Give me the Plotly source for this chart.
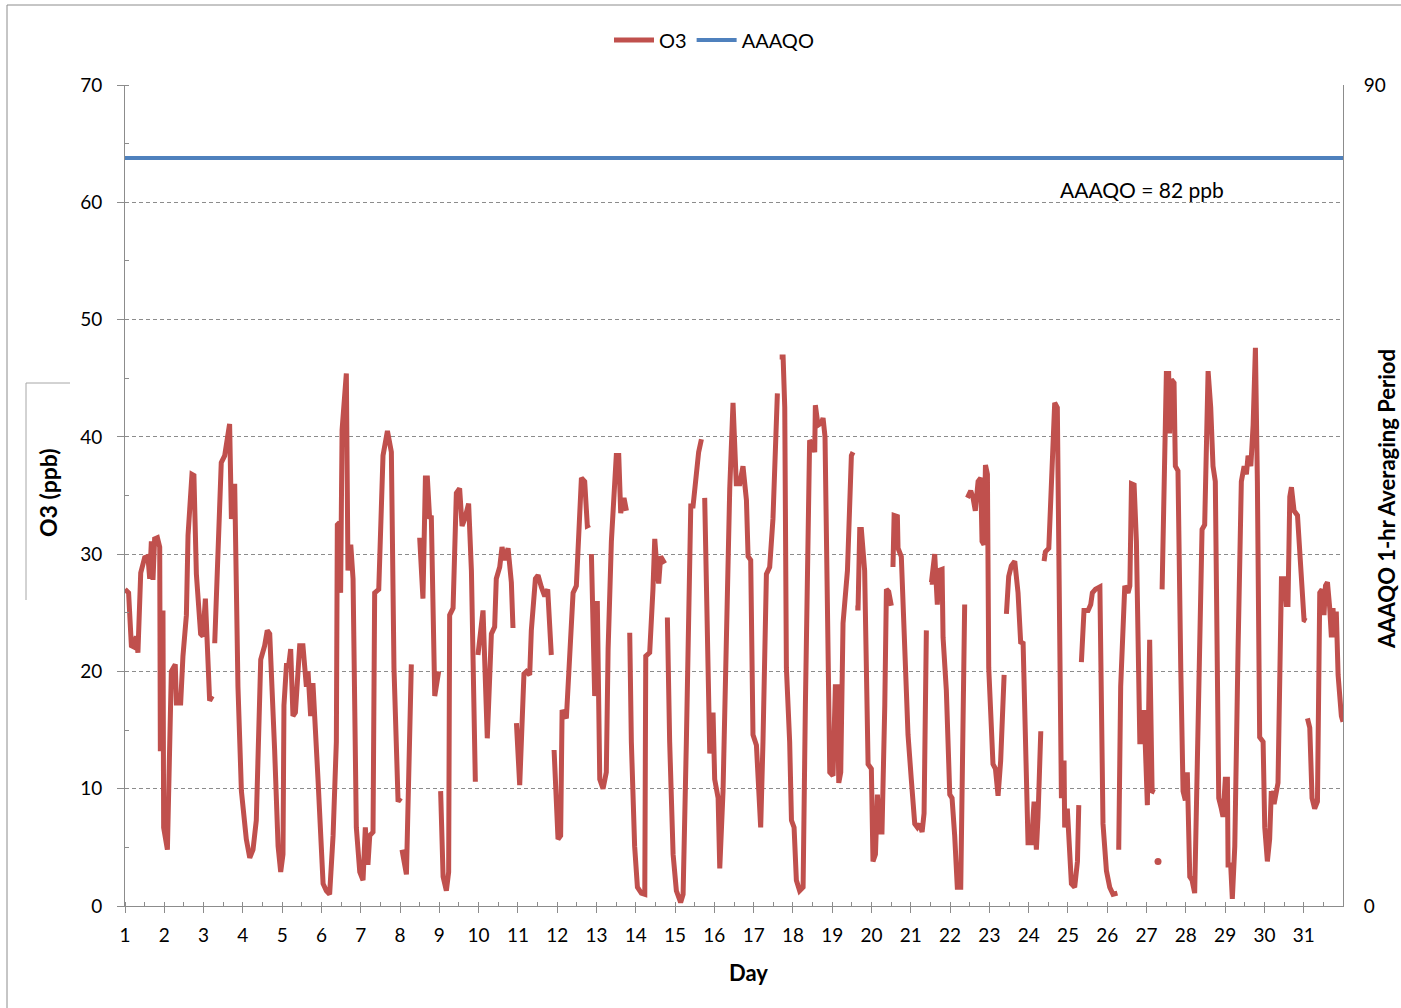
import plotly.graph_objects as go

# ---------------- data (hour of month, O3 ppb); None marks missing hours ----------------
o3_hours = [
    0.0, 2.2, 3.9, 5.3, 6.9, 7.9, 9.6, 12.0, 14.0, 15.1, 16.1, 17.1, 18.1, 19.8, 21.2, 21.6, 23.2, 23.6, 25.9, 27.3,
    28.3, 30.7, 31.4, 34.0, 35.4, 37.5, 38.5, 40.9, 42.1, 43.6, 46.2, 47.6, 49.1, 51.7, 53.3, None,
    54.8, 58.8, 60.9, 63.9, 65.0, 67.0, 69.0, 71.1, 74.1, 76.2, 78.2, 80.2, 82.9, 85.3, 86.9, 88.4, 91.4, 93.5, 95.1,
    96.5, 97.1, 98.6, 100.0, 101.2, 102.6, 104.1, 106.7, 108.7, 110.8, 111.8, 113.4, 114.8, 117.9, 121.0, 123.0,
    125.0, 127.1, 129.1, 129.7, 131.1, 131.7, 132.6, 135.2, 136.2, 137.9, 139.3, 141.3, 143.4, 145.4, 146.8, 148.4,
    149.5, 151.5, 152.5, 155.0, 157.6, 160.3, 162.7, 164.3, 166.8, 168.4, None,
    169.2, 171.9, 174.9, None,
    180.0, 182.0, 183.5, 184.7, 186.1, 187.1, 189.2, 191.6, None,
    192.8, 194.3, 196.3, 197.7, 198.3, 200.4, 202.4, 204.4, 205.9, 207.5, 209.9, 211.6, 214.0, None,
    215.6, 218.7, 221.3, 223.8, 225.8, 226.8, 228.9, 230.3, 231.9, 234.0, 236.0, 237.0, None,
    239.1, 241.1, 243.7, 245.2, 247.2, 248.2, 250.7, 252.3, 254.3, 256.4, 258.2, 260.4, None,
    262.1, 264.5, 266.1, 267.0, 269.6, 271.6, 273.7, 275.7, 278.8, 280.8, 282.4, 283.9, None,
    284.9, 286.9, 288.5, 290.0, 292.0, 294.0, 295.1, 297.1, 300.1, 301.6, 302.8, 304.8, 306.3, None,
    308.3, 309.3, 311.3, 313.0, 315.4, 317.5, 318.1, 320.5, 322.5, 323.6, 325.2, 326.0, 327.2, 329.7, None,
    331.3, 332.7, 334.8, 336.8, 339.4, 340.9, 342.9, 344.9, 345.6, 347.0, 349.0, 350.4, 352.1, None,
    354.1, 356.1, 357.2, 359.2, 360.2, 362.3, 363.3, 365.3, 367.3, 369.4, 371.4, 372.4, 373.4, 375.5, 377.5, 379.6,
    380.6, 382.2, 383.6, 385.7, 388.3, 389.7, 391.8, 393.8, 395.8, 398.5, None,
    399.9, 402.0, 403.0, 404.0, 406.0, 407.1, 408.7, 410.1, 412.1, 414.2, 415.6, 417.2, 418.2, 419.7, 421.3, 421.7,
    423.3, 425.4, 426.4, 427.6, 428.4, 430.5, 432.5, 433.9, 435.1, 436.0, 437.2, 438.6, 441.3, 442.7, 443.7, 444.7, None,
    446.1, 447.8, 448.8, 449.8, 451.8, 453.9, 455.9, 456.9, 458.4, 459.6, 461.0, 462.4, 464.1, 465.1, 466.5, 468.1, None,
    469.1, 469.8, 471.8, 472.2, 474.2, 476.3, 478.3, 480.3, 482.4, 484.0, 485.4, 486.9, 488.1, 489.5, None,
    491.6, 492.6, 494.6, 496.2, 497.1, 499.1, 499.7, 501.7, 503.8, 505.2, 506.8, 508.4, 510.5, 511.9, 512.9, None,
    514.6, 516.6, 518.0, 519.4, 521.1, 522.7, 523.5, 524.7, 525.6, 526.8, 527.6, 529.2, 530.2, 531.7, 533.3, 534.9,
    537.0, None,
    538.4, 539.8, 541.4, 543.5, 545.5, 547.1, 548.6, 550.6, 551.6, 553.7, 555.3, 556.7, 557.7, 559.4, None,
    561.4, 562.2, 564.3, 565.9, 567.9, 569.5, 571.0, 572.0, 573.6, 574.0, 575.6, 577.1, 578.1, 580.1, 581.8, 582.6, None,
    584.2, 585.8, 588.3, 589.9, 590.9, 592.8, 595.5, 596.3, 597.4, 599.5, 601.5, 603.5, 606.2, None,
    607.0, 608.2, 610.7, 612.7, 613.8, 614.8, 616.4, 617.8, 619.9, 621.3, 622.5, 623.9, 624.5, 625.9, 627.4, 629.0, None,
    631.0, None,
    633.5, 635.1, 636.1, 637.5, 638.1, 639.2, 640.8, 641.6, 643.2, 644.9, 646.3, 647.7, 648.9, 650.4, 651.8, 653.4,
    655.0, 656.5, 657.9, 659.5, 660.6, 661.6, 663.2, 664.6, 666.0, 667.3, 668.1, 669.7, 670.7, 672.1, 673.4, 673.8,
    675.4, 676.4, 677.9, 679.9, 681.9, 683.6, 685.0, 686.0, 687.7, 689.1, 690.5, 691.7, 693.1, 695.2, 696.2, 697.8,
    699.2, 700.2, 701.9, 704.3, 706.4, 708.4, 709.4, 710.4, 711.5, 712.5, 714.1, 716.2, 718.6, 720.2, 721.6, None,
    722.3, 723.7, 725.1, 726.7, 728.4, 729.8, 731.2, 732.4, 733.3, 734.5, 735.9, 736.9, 737.9, 738.9, 739.9, 741.0,
    743.0, 744.0,
]

o3_ppb = [
    27.0, 26.7, 22.2, 22.1, 23.0, 21.6, 28.4, 29.7, 29.8, 27.9, 31.1, 27.8, 31.3, 31.4, 30.6, 13.2, 25.2, 6.7, 4.8, 14.0,
    20.0, 20.6, 17.3, 17.3, 21.3, 24.8, 31.6, 36.8, 36.7, 28.3, 23.2, 23.0, 26.2, 17.5, 17.9, None,
    22.4, 37.8, 38.4, 41.1, 33.0, 36.0, 18.7, 9.8, 5.7, 4.1, 4.8, 7.3, 21.0, 22.2, 23.5, 23.2, 13.3, 5.1, 2.9,
    4.4, 17.1, 20.5, 20.5, 21.9, 16.2, 16.5, 22.2, 22.2, 18.7, 20.0, 16.2, 19.0, 10.8, 1.9, 1.3,
    1.0, 6.0, 14.0, 32.5, 32.7, 26.7, 40.6, 45.4, 28.6, 30.8, 27.9, 6.7, 2.9, 2.2, 6.7, 3.5,
    6.0, 6.3, 26.7, 27.0, 38.4, 40.5, 38.7, 20.3, 8.9, 9.2, None,
    4.8, 2.7, 20.6, None,
    31.4, 26.2, 36.5, 36.5, 33.0, 33.3, 17.9, 20.0, None,
    9.8, 2.5, 1.3, 2.9, 24.8, 25.4, 35.2, 35.6, 32.4, 33.0, 34.3, 28.6, 10.6, None,
    21.4, 25.2, 14.3, 23.2, 23.8, 27.9, 28.9, 30.6, 29.5, 30.5, 27.6, 23.7, None,
    15.6, 10.3, 19.8, 20.0, 19.7, 23.5, 27.9, 28.2, 27.2, 26.4, 27.0, 21.4, None,
    13.3, 5.7, 6.0, 16.7, 16.0, 22.2, 26.7, 27.3, 36.5, 36.2, 32.4, 32.5, None,
    30.0, 17.9, 26.0, 10.8, 10.0, 11.4, 21.9, 31.1, 38.4, 38.4, 33.5, 34.8, 33.7, None,
    23.3, 14.0, 5.1, 1.6, 1.1, 1.0, 21.3, 21.6, 27.0, 31.3, 28.3, 27.5, 29.8, 29.2, None,
    24.6, 14.0, 4.4, 1.3, 0.3, 1.0, 14.0, 31.7, 34.1, 34.1, 37.0, 38.7, 39.8, None,
    34.8, 23.5, 13.0, 16.5, 10.8, 9.2, 3.2, 9.8, 23.5, 35.6, 42.9, 37.5, 36.0, 36.0, 37.5, 34.6,
    29.8, 29.5, 14.6, 13.7, 6.7, 14.0, 28.3, 28.9, 33.0, 43.7, None,
    46.8, 46.8, 42.5, 20.3, 14.0, 7.3, 6.7, 2.2, 1.3, 1.6, 17.1, 30.8, 39.7, 39.4, 38.7, 42.7,
    41.0, 41.2, 41.6, 40.0, 29.8, 11.4, 11.1, 18.7, 18.7, 10.5, 11.4, 24.1, 28.6, 34.6, 38.4, 38.7, None,
    25.4, 25.4, 32.1, 32.1, 28.6, 12.1, 11.7, 3.8, 4.4, 9.5, 6.3, 6.3, 17.1, 27.0, 26.8, 25.6, None,
    28.9, 33.3, 33.2, 30.5, 29.8, 20.3, 14.6, 10.8, 7.0, 6.7, 7.0, 6.3, 7.9, 23.5, None,
    27.6, 27.6, 30.0, 25.7, 28.6, 28.7, 22.9, 18.4, 9.5, 9.2, 6.0, 1.6, 1.6, 20.3, 25.7, None,
    34.8, 35.4, 34.8, 33.7, 36.2, 36.5, 31.1, 30.8, 37.6, 36.8, 20.3, 16.2, 12.1, 11.7, 9.4, 12.4,
    19.7, None,
    24.9, 28.1, 29.0, 29.4, 26.7, 22.5, 22.4, 9.2, 5.4, 5.4, 8.9, 4.8, 7.6, 14.9, None,
    29.4, 30.2, 30.5, 36.2, 42.9, 42.5, 20.3, 9.2, 12.4, 6.7, 8.3, 5.1, 1.9, 1.6, 3.8, 8.6, None,
    20.8, 25.2, 25.2, 25.7, 26.7, 27.0, 27.2, 18.7, 7.0, 3.0, 1.6, 1.0, 1.1, None,
    4.8, 18.7, 27.3, 26.7, 27.3, 36.0, 35.9, 31.1, 14.0, 14.0, 16.7, 8.9, 8.6, 22.7, 9.8, 9.7, None,
    3.8, None,
    27.0, 39.4, 45.4, 45.4, 40.3, 44.9, 44.6, 37.5, 37.1, 20.3, 9.8, 9.0, 11.4, 2.5, 2.2, 1.1,
    13.3, 26.7, 32.1, 32.5, 41.6, 45.6, 42.5, 37.5, 36.2, 23.5, 9.2, 8.3, 7.6, 10.8, 10.8, 3.5,
    3.5, 0.6, 5.1, 21.9, 36.2, 37.5, 36.8, 38.4, 37.5, 41.0, 47.6, 36.2, 14.4, 14.0, 6.7, 3.8,
    5.7, 9.8, 8.7, 10.5, 27.9, 27.9, 25.7, 25.7, 34.9, 35.7, 33.7, 33.3, 26.7, 24.4, 24.3, None,
    16.0, 15.2, 9.2, 8.3, 8.9, 26.7, 27.0, 24.8, 27.3, 27.6, 25.4, 22.9, 25.4, 22.9, 25.1, 19.7,
    16.2, 15.7,
]

aaaqo_ppb = 82                      # 1-hr objective (right axis)
day_labels = [str(d) for d in range(1, 32)]
day_ticks = list(range(1, 32))
day_range = [1, 32]
left_range = [0, 70]
right_range = [0, 90]

# ---------------- figure ----------------
o3_days = [None if h is None else 1 + h / 24 for h in o3_hours]

# isolated single readings (no neighbours) need a marker to be visible
iso_x, iso_y = [], []
for i, (xv, yv) in enumerate(zip(o3_days, o3_ppb)):
    if xv is None:
        continue
    prev_none = i == 0 or o3_days[i - 1] is None
    next_none = i == len(o3_days) - 1 or o3_days[i + 1] is None
    if prev_none and next_none:
        iso_x.append(xv)
        iso_y.append(yv)

RED = "#C0504D"
BLUE = "#4F81BD"
GRID = "#8c8c8c"
FONT = "Lato"

fig = go.Figure()
fig.add_trace(go.Scatter(x=o3_days, y=o3_ppb, mode="lines", name="O3",
                         line=dict(color=RED, width=5), connectgaps=False))
fig.add_trace(go.Scatter(x=iso_x, y=iso_y, mode="markers", showlegend=False,
                         marker=dict(color=RED, size=7)))
fig.add_trace(go.Scatter(x=day_range, y=[aaaqo_ppb, aaaqo_ppb], mode="lines", name="AAAQO",
                         line=dict(color=BLUE, width=4), yaxis="y2"))

W, H = 1401, 1008
L, R, T, B = 125, 58, 85, 102
pw, ph = W - L - R, H - T - B


def px(xp):
    return (xp - L) / pw


def py(yp):
    return (H - B - yp) / ph


fig.update_layout(
    width=W, height=H,
    margin=dict(l=L, r=R, t=T, b=B),
    paper_bgcolor="white", plot_bgcolor="white",
    font=dict(family=FONT, size=19, color="black"),
    showlegend=True,
    legend=dict(orientation="h", x=px(714), xanchor="center", y=py(40), yanchor="middle",
                font=dict(size=20), bgcolor="rgba(0,0,0,0)", itemwidth=40, tracegroupgap=0),
    xaxis=dict(range=day_range, tickmode="array", tickvals=day_ticks, ticktext=day_labels,
               ticks="outside", ticklen=6, tickcolor=GRID, showline=True, linecolor=GRID, linewidth=1,
               showgrid=False, zeroline=False, ticklabelstandoff=6,
               tickfont=dict(size=19),
               minor=dict(tick0=1, dtick=0.5, ticks="inside", ticklen=4, tickcolor=GRID, showgrid=False)),
    yaxis=dict(range=left_range, dtick=10, ticks="outside", ticklen=7, tickcolor=GRID,
               showline=True, linecolor=GRID, linewidth=1, zeroline=False,
               showgrid=True, gridcolor=GRID, gridwidth=1, griddash="4px,3px",
               ticklabelstandoff=11, tickfont=dict(size=19),
               minor=dict(dtick=5, ticks="inside", ticklen=4, tickcolor=GRID, showgrid=False)),
    yaxis2=dict(range=right_range, overlaying="y", side="right", tickvals=[0, 90],
                ticks="", showline=True, linecolor=GRID, linewidth=1, showgrid=False, zeroline=False,
                ticklabelstandoff=16, tickfont=dict(size=19)),
    annotations=[
        dict(text="<b>O3 (ppb)</b>", xref="paper", yref="paper", x=px(48), y=py(492),
             textangle=-90, showarrow=False, xanchor="center", yanchor="middle", font=dict(size=23)),
        dict(text="<b>AAAQO 1-hr Averaging Period</b>", xref="paper", yref="paper", x=px(1386), y=py(499),
             textangle=-90, showarrow=False, xanchor="center", yanchor="middle", font=dict(size=22)),
        dict(text="<b>Day</b>", xref="paper", yref="paper", x=px(748), y=py(972),
             showarrow=False, xanchor="center", yanchor="middle", font=dict(size=22)),
        dict(text="AAAQO = 82 ppb", xref="paper", yref="paper", x=px(1058), y=py(190),
             showarrow=False, xanchor="left", yanchor="middle", font=dict(size=21)),
    ],
    shapes=[
        dict(type="rect", xref="paper", yref="paper", x0=px(7), x1=px(1460), y0=py(1060), y1=py(5),
             line=dict(color="#8c8c8c", width=1), fillcolor="rgba(0,0,0,0)", layer="below"),
        dict(type="path", xref="paper", yref="paper",
             path=f"M {px(26)} {py(600)} L {px(26)} {py(383)} L {px(70)} {py(383)}",
             line=dict(color="#a6a6a6", width=1)),
    ],
)

fig.write_html("out.html")
